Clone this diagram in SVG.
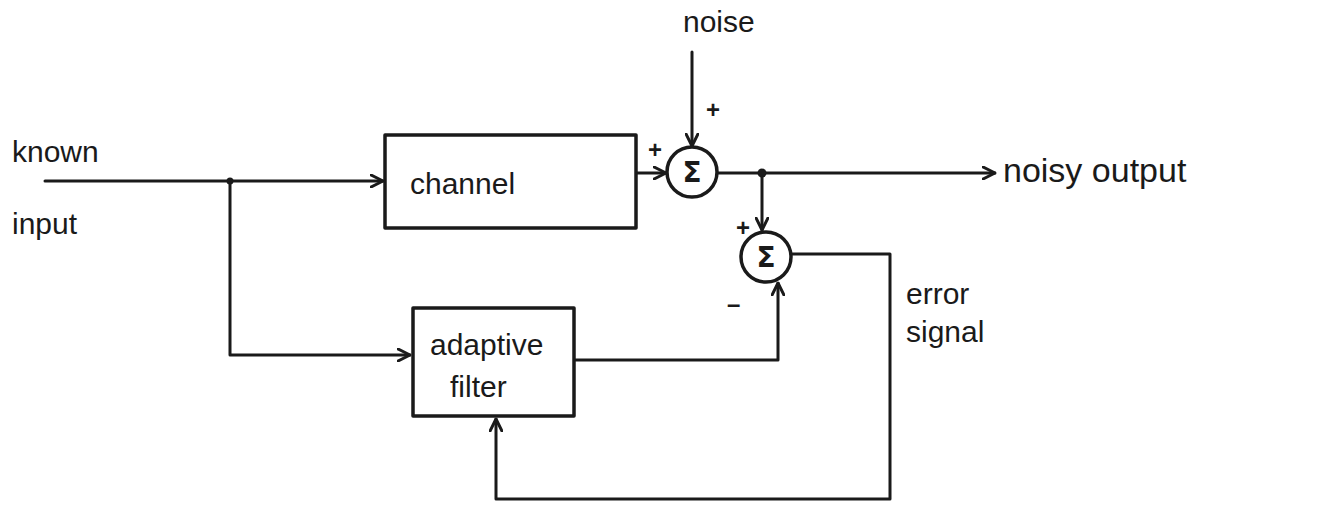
<svg xmlns="http://www.w3.org/2000/svg" width="1333" height="509" viewBox="0 0 1333 509">
<style>
.ln{fill:none;stroke:#1a1a1a;stroke-width:3;stroke-linecap:round;stroke-linejoin:round}
.bx{fill:#fff;stroke:#1a1a1a;stroke-width:3.5;stroke-linejoin:round}
.t{font-family:"Liberation Sans",Arial,sans-serif;fill:#1a1a1a;font-size:30px}
.s{font-family:"Liberation Sans",Arial,sans-serif;fill:#1a1a1a;font-size:24px;font-weight:bold}
.sg{font-family:"DejaVu Sans",sans-serif;fill:#1a1a1a;font-size:28px;font-weight:bold;text-anchor:middle}
</style>
<defs>
<marker id="ah" viewBox="0 0 14 14" refX="13" refY="7" markerWidth="14" markerHeight="14" markerUnits="userSpaceOnUse" orient="auto">
<path d="M1,1 L13,7 L1,13" fill="none" stroke="#1a1a1a" stroke-width="3" stroke-linecap="round" stroke-linejoin="round"/>
</marker>
</defs>
<rect width="1333" height="509" fill="#fff"/>
<g id="connectors">
<path class="ln" d="M45,181 L383,181" marker-end="url(#ah)"/>
<path class="ln" d="M230,181 L230,355 L410,355" marker-end="url(#ah)"/>
<path class="ln" d="M636,173 L666,173" marker-end="url(#ah)"/>
<path class="ln" d="M692,52 L692,146" marker-end="url(#ah)"/>
<path class="ln" d="M717,173 L995,173" marker-end="url(#ah)"/>
<path class="ln" d="M762,173 L762,230" marker-end="url(#ah)"/>
<path class="ln" d="M574,360 L778,360 L778,283" marker-end="url(#ah)"/>
<path class="ln" d="M792,254 L890,254 L890,499 L496,499 L496,419" marker-end="url(#ah)"/>
<circle cx="230" cy="181" r="3.5" fill="#1a1a1a"/>
<circle cx="762" cy="173" r="4.5" fill="#1a1a1a"/>
</g>
<g id="known-input">
<text class="t" x="12" y="162">known</text>
<text class="t" x="12" y="234">input</text>
</g>
<g id="channel">
<rect class="bx" x="385" y="135" width="251" height="93"/>
<text class="t" x="410" y="194">channel</text>
</g>
<g id="noise">
<text class="t" x="683" y="32">noise</text>
</g>
<g id="sum1">
<circle class="bx" cx="692" cy="172" r="25"/>
<text class="sg" x="692" y="182">Σ</text>
<text class="s" x="648" y="158">+</text>
<text class="s" x="706" y="118">+</text>
</g>
<g id="sum2">
<circle class="bx" cx="766" cy="257" r="25"/>
<text class="sg" x="766" y="267">Σ</text>
<text class="s" x="736" y="236">+</text>
<text class="s" x="727" y="312">–</text>
</g>
<g id="noisy-output">
<text class="t" x="1003" y="182" style="font-size:34px">noisy output</text>
</g>
<g id="adaptive-filter">
<rect class="bx" x="413" y="308" width="161" height="108"/>
<text class="t" x="430" y="355">adaptive</text>
<text class="t" x="450" y="397">filter</text>
</g>
<g id="error-signal">
<text class="t" x="906" y="304">error</text>
<text class="t" x="906" y="342">signal</text>
</g>
</svg>
